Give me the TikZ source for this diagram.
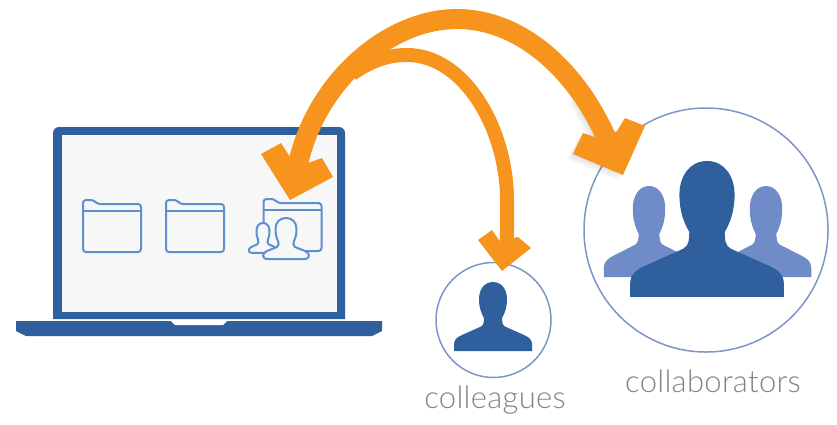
\documentclass[tikz,border=0pt]{standalone}
\usepackage{fontspec}
\newfontfamily\labelfont{Lato Light}[LetterSpace=1]
\definecolor{laptopblue}{RGB}{47, 95, 157}
\definecolor{screengray}{RGB}{247, 247, 248}
\definecolor{iconblue}{RGB}{94, 143, 208}
\definecolor{peerblue}{RGB}{111, 140, 200}
\definecolor{ringblue}{RGB}{127, 148, 200}
\definecolor{linkorange}{RGB}{247, 148, 30}
\definecolor{labelgray}{RGB}{130, 130, 130}
\usetikzlibrary{positioning}
\tikzset{
  person/.pic={
    \path[pic actions] (-39,69) -- (-39,62) .. controls (-39,58) and (-36,55) .. (-31,53) -- (-12,44.5)
      .. controls (-9,43) and (-9,39) .. (-9,36) .. controls (-12,31) and (-14,25) .. (-14,17)
      .. controls (-14,8) and (-9,0) .. (0,0) .. controls (9,0) and (14,8) .. (14,17)
      .. controls (14,25) and (12,31) .. (9,36) .. controls (9,39) and (9,43) .. (12,44.5)
      -- (31,53) .. controls (36,55) and (39,58) .. (39,62) -- (39,69) -- cycle;
  },
  contact/.pic={
    \path[pic actions] (-18,41) .. controls (-25,41) and (-24,35) .. (-19,33) -- (-9,29)
      .. controls (-7,28) and (-7,25) .. (-8,23) .. controls (-10,19) and (-10.5,15) .. (-10.5,11)
      .. controls (-10.5,4) and (-6,0) .. (0,0) .. controls (6,0) and (10.5,4) .. (10.5,11)
      .. controls (10.5,15) and (10,19) .. (8,23) .. controls (7,25) and (7,28) .. (9,29)
      -- (19,33) .. controls (24,35) and (25,41) .. (18,41) -- cycle;
  },
  foldericon/.pic={
    \node[minimum width=58pt, minimum height=52pt, inner sep=0pt] (-box) at (0,0) {};
    \draw[iconline, rounded corners=3pt] (-29,26) -- (-29,-26) -- (-18,-26) -- (-15,-22) -- (29,-22) -- (29,26) -- cycle;
    \draw[iconline] (-29,-15) -- (29,-15);
  },
  iconline/.style={draw=iconblue, line width=2pt, line join=round},
  ringnode/.style={circle, draw=ringblue, fill=white, line width=1.5pt, inner sep=0pt},
  linkbig/.style={draw=linkorange, line width=20pt},
  linksmall/.style={draw=linkorange, line width=14pt},
  linkhead/.style={fill=linkorange},
  peerlabel/.style={font=\labelfont\fontsize{31}{32}\selectfont, text=labelgray, inner sep=0pt}
}

\begin{document}
\begin{tikzpicture}[x=1pt, y=-1pt]
  \useasboundingbox (0,0) rectangle (837,424);

  % Laptop
  \fill[laptopblue] (53,319) [rounded corners=6pt] -- (53,127) -- (345,127) [sharp corners] -- (345,319) -- cycle;
  \fill[screengray] (62,135) rectangle (337,312);
  \fill[laptopblue] (16,321) -- (382,321) -- (382,331) -- (372,336) -- (26,336) -- (16,331) -- cycle;
  \fill[white] (171,321) -- (227,321) -- (223,325) -- (175,325) -- cycle;

  % Folders
  \pic (foldera) at (112,226) {foldericon};
  \pic (folderb) at (195,226) {foldericon};
  \pic (folderc) at (292.5,225) {foldericon};
  \pic[xscale=0.62, yscale=0.73, fill=screengray, iconline] at (263,223) {contact};
  \pic[fill=screengray, iconline] at (286,218) {contact};

  % Circles
  \node[ringnode, minimum size=115pt] (colleagues) at (493.5,320) {};
  \node[ringnode, minimum size=244pt] (collaborators) at (706,230) {};

  % People
  \pic[fill=laptopblue] at (493,282) {person};
  \pic[xscale=1.16, yscale=1.32, fill=peerblue] at (649,186) {person};
  \pic[xscale=1.16, yscale=1.32, fill=peerblue] at (766,186) {person};
  \pic[scale=1.97, fill=laptopblue] at (707,161) {person};

  % Soft shadow of the right arrow
  \foreach \d in {1,3,5} {
    \draw[black, opacity=0.04, line width=20pt, shift={(-\d,\d)}] (583,93) .. controls (594,112) and (604,132) .. (612,152);
    \fill[black, opacity=0.04, shift={(-\d,\d)}] (573,154) -- (623,175) -- (610,150) -- (583,133) -- cycle;
  }

  % Links
  \coordinate (branch) at (352,74);
  \draw[linksmall] (branch) .. controls (365,65) and (382,55) .. (407,55)
    .. controls (465,55) and (507,130) .. (507,200) .. controls (507,225) and (508,245) .. (colleagues.80);
  \draw[linkbig, shorten <=20pt] (folderc-box.north) .. controls (308,88) and (385,19) .. (457,19)
    .. controls (520,19) and (580,70) .. (collaborators.140);

  % Arrow heads
  \fill[linkhead] (261,154) -- (281,143) -- (290,157) -- (308,163) -- (322,158) -- (333,177) -- (290,200) -- cycle;
  \fill[linkhead] (625,118) -- (645,126) -- (623,175) -- (573,154) -- (583,133) -- (598,138) -- (617,131) -- cycle;
  \fill[linkhead] (478,240) -- (492,230) -- (501,243) -- (513,238) -- (518,237) -- (531,248) -- (502,271) -- cycle;

  % Labels
  \node[peerlabel] (colleagueslabel) at (495,400) {colleagues};
  \node[peerlabel] (collaboratorslabel) at (713,381) {collaborators};
\end{tikzpicture}
\end{document}
